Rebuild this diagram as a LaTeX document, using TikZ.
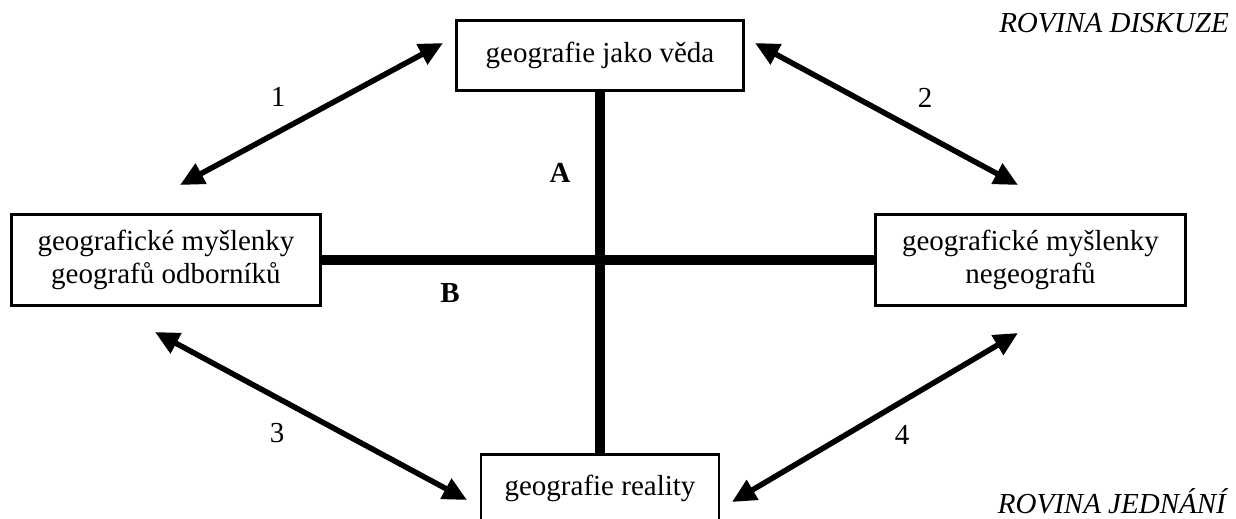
\documentclass[tikz,border=0pt]{standalone}
\usepackage{fontspec}
\setmainfont{Liberation Serif}
\usetikzlibrary{arrows.meta}
\begin{document}
\begin{tikzpicture}[x=1pt,y=-1pt,
  box/.style={draw, line width=2.8pt, align=center, inner sep=0pt, font=\fontsize{29}{33}\selectfont},
  txt/.style={inner sep=0pt, font=\fontsize{29}{33}\selectfont},
  lbl/.style={inner sep=0pt, font=\fontsize{29}{33}\selectfont\bfseries},
  rov/.style={inner sep=0pt, anchor=base east, font=\fontsize{29}{33}\selectfont\itshape},
  arr/.style={line width=5.5pt, {Triangle[length=24pt,width=22pt]}-{Triangle[length=24pt,width=22pt]}},
  bar/.style={line width=9.5pt}]
\clip (0,0) rectangle (1236,519);
\node[box, minimum width=287pt, minimum height=70pt] (top) at (600,55.5) {geografie jako věda};
\node[box, minimum width=309pt, minimum height=91pt] (left) at (166,260) {geografické myšlenky\\geografů odborníků};
\node[box, minimum width=310pt, minimum height=91pt] (right) at (1030.5,260) {geografické myšlenky\\negeografů};
\node[box, minimum width=238pt, anchor=north, text height=30pt, text depth=40pt, inner ysep=11pt] (real) at (600,453.4) {geografie reality};
\draw[bar] (top.south) -- (real.north);
\draw[bar] (left.east) -- (right.west);
\coordinate (a1s) at (180,185);
\coordinate (a1e) at (443,43);
\coordinate (a2s) at (755,43);
\coordinate (a2e) at (1018,185);
\coordinate (a3s) at (155,332);
\coordinate (a3e) at (467,500);
\coordinate (a4s) at (1018,333);
\coordinate (a4e) at (732,502);
\draw[arr] (a1s) -- (a1e);
\draw[arr] (a2s) -- (a2e);
\draw[arr] (a3s) -- (a3e);
\draw[arr] (a4s) -- (a4e);
\node[txt] (n1) at (278,97) {1};
\node[txt] (n2) at (925,98) {2};
\node[txt] (n3) at (277,433) {3};
\node[txt] (n4) at (902,435) {4};
\node[lbl] (lA) at (560,173) {A};
\node[lbl] (lB) at (450,293) {B};
\node[rov] (rd) at (1229,33) {ROVINA DISKUZE};
\node[rov] (rj) at (1226,513) {ROVINA JEDNÁNÍ};
\end{tikzpicture}
\end{document}
